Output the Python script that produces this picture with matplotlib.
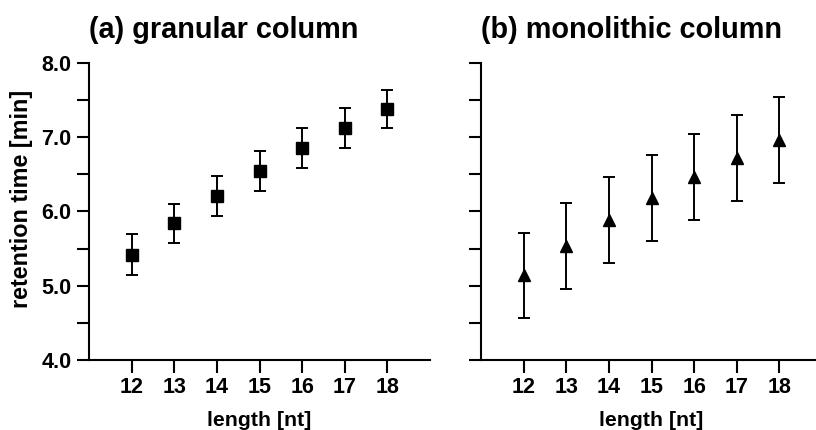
import matplotlib
matplotlib.use("Agg")
import matplotlib.pyplot as plt
from matplotlib.ticker import MultipleLocator, FormatStrFormatter

plt.rcParams['font.family'] = ['Liberation Sans', 'DejaVu Sans']
plt.rcParams['font.weight'] = 'bold'
plt.rcParams['xtick.labelsize'] = 15.5
plt.rcParams['ytick.labelsize'] = 15.5

length_nt = [12, 13, 14, 15, 16, 17, 18]
granular_mean = [5.42, 5.84, 6.21, 6.54, 6.85, 7.12, 7.38]
granular_err = [0.28, 0.26, 0.27, 0.27, 0.27, 0.27, 0.26]
monolithic_mean = [5.14, 5.53, 5.88, 6.18, 6.47, 6.72, 6.96]
monolithic_err = [0.57, 0.58, 0.58, 0.58, 0.58, 0.58, 0.58]
titles = ["(a) granular column", "(b) monolithic column"]
xlabel = "length [nt]"
ylabel = "retention time [min]"

fig = plt.figure(figsize=(8.16, 4.30), dpi=100)
ax1 = fig.add_axes([0.1091, 0.1628, 0.418, 0.6907])
ax2 = fig.add_axes([0.5895, 0.1628, 0.418, 0.6907])

series = [(ax1, granular_mean, granular_err, 's', 8.0),
          (ax2, monolithic_mean, monolithic_err, '^', 8.5)]

for i, (ax, m, e, mk, ms) in enumerate(series):
    ax.errorbar(length_nt, m, yerr=e, fmt=mk, color='black', ms=ms,
                ecolor='black', elinewidth=1.4, capsize=4, capthick=1.4,
                clip_on=False, zorder=3)
    ax.set_xlim(11, 19)
    ax.set_ylim(4.0, 8.0)
    ax.set_xticks(length_nt)
    ax.yaxis.set_major_locator(MultipleLocator(1.0))
    ax.yaxis.set_minor_locator(MultipleLocator(0.5))
    ax.yaxis.set_major_formatter(FormatStrFormatter('%.1f'))
    for s in ['top', 'right']:
        ax.spines[s].set_visible(False)
    for s in ['left', 'bottom']:
        ax.spines[s].set_linewidth(1.5)
    ax.tick_params(axis='both', which='both', direction='out', length=9,
                   width=1.5, labelsize=15.5, pad=3.5)
    for lab in ax.get_xticklabels() + ax.get_yticklabels():
        lab.set_fontweight('bold')
        lab.set_fontsize(15.5)
    ax.set_xlabel(xlabel, fontsize=15.3, fontweight='bold', labelpad=9)
    ax.set_title(titles[i], loc='left', fontsize=20.8, fontweight='bold', pad=18)

ax1.set_ylabel(ylabel, fontsize=16.8, fontweight='bold')
ax1.yaxis.set_label_coords(-0.165, 0.542)
ax2.tick_params(axis='y', which='both', labelleft=False)

fig.savefig("out.png", dpi=100)
